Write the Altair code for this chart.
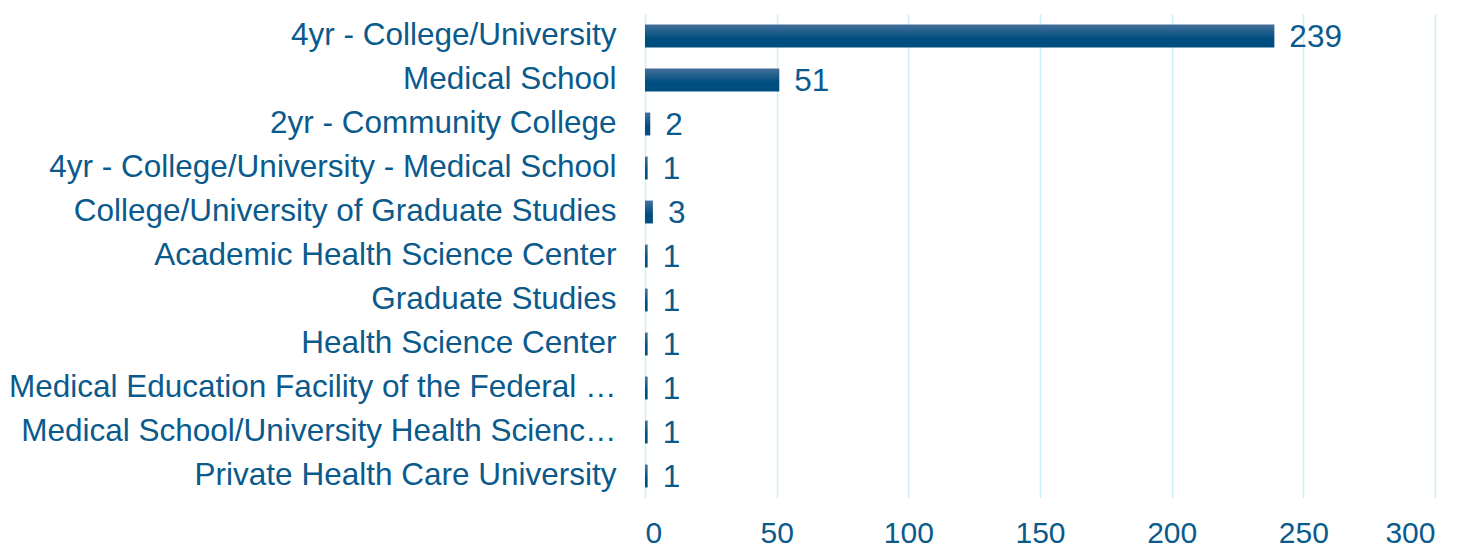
import altair as alt
import pandas as pd

categories = [
    "4yr - College/University",
    "Medical School",
    "2yr - Community College",
    "4yr - College/University - Medical School",
    "College/University of Graduate Studies",
    "Academic Health Science Center",
    "Graduate Studies",
    "Health Science Center",
    "Medical Education Facility of the Federal Government",
    "Medical School/University Health Sciences Center",
    "Private Health Care University",
]
counts = [239, 51, 2, 1, 3, 1, 1, 1, 1, 1, 1]
x_ticks = [0, 50, 100, 150, 200, 250, 300]

df = pd.DataFrame({"category": categories, "count": counts})

TEXT = "#0b5a8c"
FONT = "Liberation Sans"
FS = 31.5

y_enc = alt.Y(
    "category:N",
    sort=categories,
    title=None,
    scale=alt.Scale(paddingInner=0.48, paddingOuter=0.24),
    axis=alt.Axis(
        labelFont=FONT,
        labelFontSize=FS,
        labelColor=TEXT,
        labelPadding=29,
        labelLimit=610,
        ticks=False,
        domain=False,
        grid=False,
    ),
)
x_enc = alt.X(
    "count:Q",
    title=None,
    scale=alt.Scale(domain=[0, 300], nice=False),
    axis=alt.Axis(
        values=x_ticks,
        labelFont=FONT,
        labelFontSize=30,
        labelColor=TEXT,
        labelPadding=20,
        ticks=False,
        domain=False,
        grid=True,
        gridColor="#cdeefc",
        gridWidth=1.5,
    ),
)

bars = alt.Chart(df).mark_bar(
    color=alt.Gradient(
        gradient="linear",
        stops=[
            alt.GradientStop(color="#44709a", offset=0),
            alt.GradientStop(color="#004e80", offset=0.6),
            alt.GradientStop(color="#004e80", offset=1),
        ],
        x1=0, x2=0, y1=0, y2=1,
    )
).encode(x=x_enc, y=y_enc)

labels = alt.Chart(df).mark_text(
    align="left", baseline="middle", dx=15, dy=2, font=FONT, fontSize=FS, color=TEXT
).encode(x="count:Q", y=alt.Y("category:N", sort=categories), text="count:Q")

chart = (
    (bars + labels)
    .properties(
        width=790,
        height=484,
        padding={"left": 0, "right": 5, "top": 6, "bottom": 0},
    )
    .configure_view(stroke=None, strokeWidth=0)
)

chart.save("out.html", embed_options={"renderer": "svg", "actions": False})
